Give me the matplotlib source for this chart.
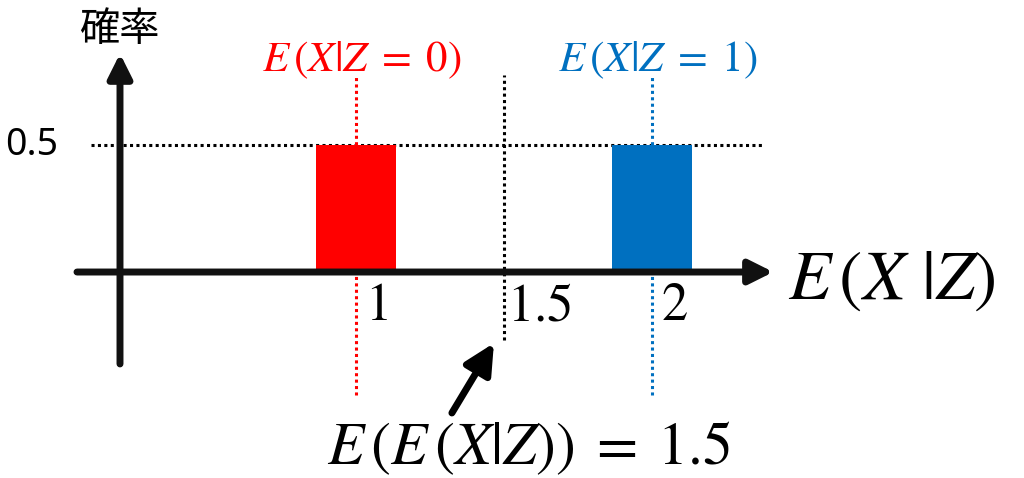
import matplotlib.pyplot as plt
from matplotlib.patches import FancyArrowPatch

plt.rcParams['mathtext.fontset'] = 'stix'

# データ
x_vals = [1, 2]              # E(X|Z) の値
probs = [0.5, 0.5]           # 確率
bar_colors = ['#FF0000', '#0070C0']
top_labels = [r'$E\,(X|Z\;=\;0)$', r'$E\,(X|Z\;=\;1)$']
tick_labels = ['1', '1.5', '2']
tick_pos = [1, 1.5, 2]
mean_val = 1.5               # E(E(X|Z))

fig = plt.figure(figsize=(10.24, 4.78), dpi=100)
ax = fig.add_axes([0, 0, 1, 1])
ax.set_xlim(-0.2027, 3.2568)
ax.set_ylim(-0.811, 1.071)
ax.axis('off')

# 棒
ax.bar(x_vals, probs, width=0.27, color=bar_colors, zorder=3)

# 点線
ax.plot([0.105, 2.372], [probs[0], probs[0]], color='black', lw=2.2,
        linestyle=(0, (1, 1.1)), zorder=2)
for x, c in zip(x_vals, bar_colors):
    ax.plot([x, x], [-0.484, 0.768], color=c, lw=2.2,
            linestyle=(0, (1, 1.1)), zorder=2)
ax.plot([mean_val, mean_val], [-0.268, 0.776], color='black', lw=2.2,
        linestyle=(0, (1, 1.1)), zorder=2)

# 軸（矢印）
axis_style = dict(arrowstyle='-|>,head_length=0.8,head_width=0.4',
                  mutation_scale=18, lw=5, color='#111111', zorder=4,
                  shrinkA=0, shrinkB=0)
ax.add_patch(FancyArrowPatch((0.0574, 0), (2.41, 0), **axis_style))
ax.add_patch(FancyArrowPatch((0.2027, -0.362), (0.2027, 0.86), **axis_style))

# ラベル
ax.text(0.2, 0.953, '確率', fontsize=29, ha='center', va='center',
        family=['Noto Sans CJK JP', 'DejaVu Sans'])
ax.text(-0.095, probs[0], '0.5', fontsize=27, ha='center', va='center',
        family='Noto Sans')
for x, lab, c in zip(x_vals, top_labels, bar_colors):
    ax.text(x + 0.02, 0.835, lab, fontsize=31, color=c, ha='center', va='center')
for x, lab in zip(tick_pos, tick_labels):
    dx = 0.01 if lab == '1.5' else 0.03
    ax.text(x + dx, -0.13, '$' + lab + '$', fontsize=38, ha='left', va='center')
ax.text(2.46, -0.03, r'$E\,(X\ |Z)$', fontsize=50, ha='left', va='center')

# E(E(X|Z)) の矢印と注釈
ax.annotate('', xy=(1.466, -0.28), xytext=(1.324, -0.555),
            arrowprops=dict(arrowstyle='-|>,head_length=0.9,head_width=0.45',
                            mutation_scale=20, lw=5, color='black',
                            shrinkA=0, shrinkB=0))
ax.text(1.585, -0.69, r'$E\,(E\,(X|Z))\;=\;%s$' % mean_val, fontsize=43,
        ha='center', va='center')

plt.savefig('out.png', dpi=100)
